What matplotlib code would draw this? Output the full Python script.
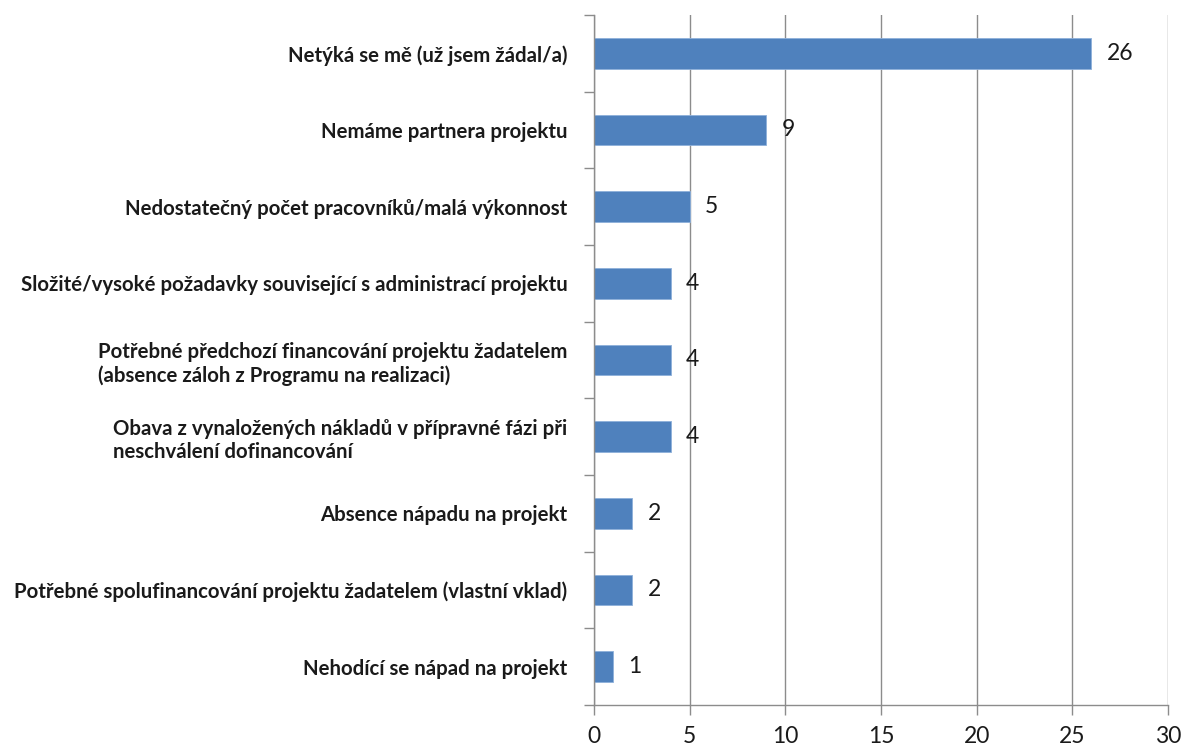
import matplotlib
matplotlib.use("Agg")
import matplotlib.pyplot as plt
from matplotlib.ticker import FixedLocator, NullFormatter

categories = [
    "Netýká se mě (už jsem žádal/a)",
    "Nemáme partnera projektu",
    "Nedostatečný počet pracovníků/malá výkonnost",
    "Složité/vysoké požadavky související s administrací projektu",
    "Potřebné předchozí financování projektu žadatelem\n(absence záloh z Programu na realizaci)",
    "Obava z vynaložených nákladů v přípravné fázi při\nneschválení dofinancování",
    "Absence nápadu na projekt",
    "Potřebné spolufinancování projektu žadatelem (vlastní vklad)",
    "Nehodící se nápad na projekt",
]
values = [26, 9, 5, 4, 4, 4, 2, 2, 1]
x_ticks = [0, 5, 10, 15, 20, 25, 30]

plt.rcParams['font.family'] = ['Lato', 'DejaVu Sans']

fig = plt.figure(figsize=(11.86, 7.49), dpi=100)
ax = fig.add_axes([594/1186, 1-705/749, (1168-594)/1186, (705-15)/749])

n = len(categories)
ypos = list(range(n))
ax.barh(ypos, values, height=0.4, color="#4F81BD", edgecolor="#8EB0DA", linewidth=0.6, zorder=3)

ax.set_ylim(n - 0.5, -0.5)
ax.set_xlim(0, 30)
ax.set_xticks(x_ticks)
ax.set_xticklabels([str(t) for t in x_ticks])

grey = "#8C8C8C"
ax.grid(axis="x", color=grey, linewidth=1.0, zorder=0)
for s in ["top", "right", "bottom"]:
    ax.spines[s].set_visible(False)
ax.spines["left"].set_color(grey)
ax.spines["left"].set_linewidth(1.0)
ax.spines["left"].set_zorder(4)

ax.axhline(n - 0.5, color=grey, linewidth=1.0, zorder=4, clip_on=False)

ax.set_yticks(ypos)
ax.set_yticklabels(categories, fontsize=14.7, fontweight="bold", color="#1A1A1A")
for lbl in ax.get_yticklabels():
    lbl.set_multialignment("left")
ax.tick_params(axis="y", which="major", length=0, pad=19)
ax.yaxis.set_minor_locator(FixedLocator([i - 0.5 for i in range(n + 1)]))
ax.yaxis.set_minor_formatter(NullFormatter())
ax.tick_params(axis="y", which="minor", length=7, color=grey, width=1.0)

ax.tick_params(axis="x", length=7, color=grey, width=1.0, pad=8, labelsize=16.5, labelcolor="#1A1A1A")

for y, v in zip(ypos, values):
    ax.annotate(str(v), xy=(v, y), xytext=(11, 0), textcoords="offset points",
                ha="left", va="center", fontsize=16.5, color="#1A1A1A")

fig.savefig("out.png", dpi=100)
